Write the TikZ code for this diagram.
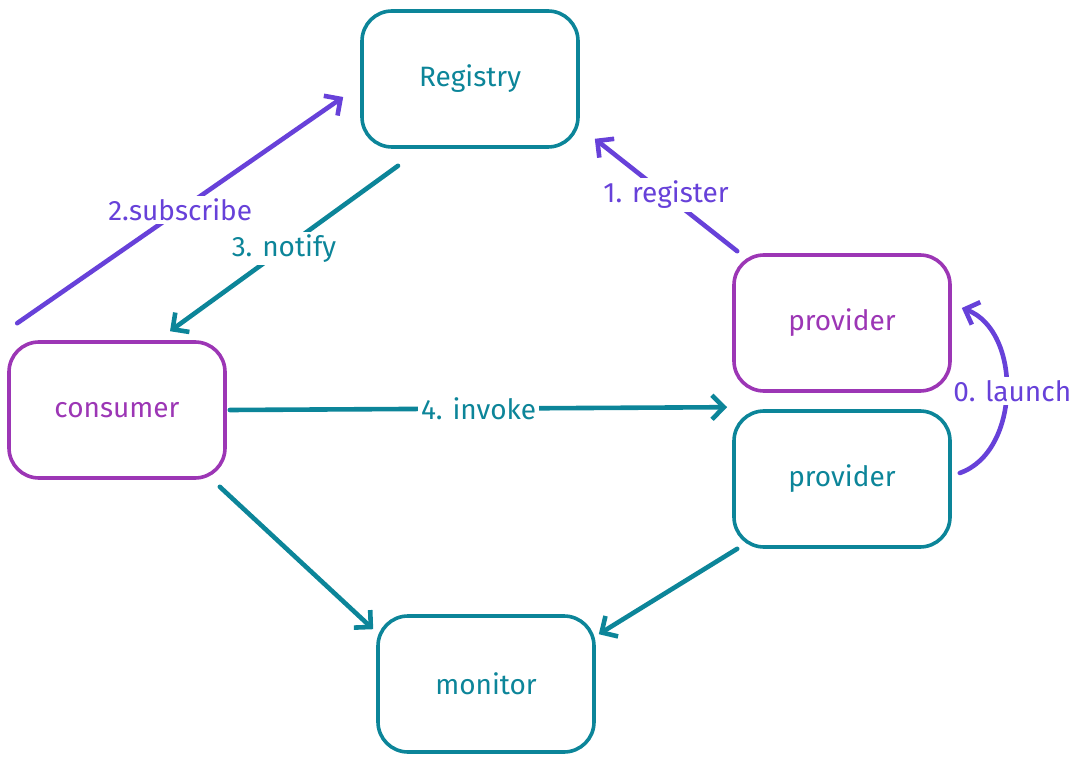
\documentclass[tikz,border=0pt]{standalone}
\usepackage{fontspec}
\setmainfont{Fira Sans}
\usetikzlibrary{arrows.meta}
\definecolor{dteal}{HTML}{0C8599}
\definecolor{dpurple}{HTML}{9C36B5}
\definecolor{dviolet}{HTML}{6741D9}
\begin{document}
\begin{tikzpicture}[
	x=0.5pt, y=-0.5pt,
	font=\fontsize{14}{16}\selectfont,
	box/.style={draw, rounded corners=15pt, line width=1.8pt, minimum width=108pt, minimum height=68pt},
	tb/.style={box, draw=dteal, text=dteal},
	pb/.style={box, draw=dpurple, text=dpurple},
	link/.style={line width=2.3pt, line cap=round, -{Straight Barb[length=6pt,width=12pt]}},
	tl/.style={link, draw=dteal},
	vl/.style={link, draw=dviolet},
	lbl/.style={fill=white, inner sep=1.5pt},
	]
\useasboundingbox (0,0) rectangle (1081,764);
\node [tb] (registry) at (470,79) {Registry};
\node [pb] (consumer) at (117,410) {consumer};
\node [pb] (provA) at (842,323) {provider};
\node [tb] (provB) at (842,479) {provider};
\node [tb] (monitor) at (486,684) {monitor};
\draw [vl] ([xshift=5pt,yshift=8.5pt]consumer.north west) -- node [lbl, text=dviolet] {2.subscribe} ([xshift=-8.5pt,yshift=-9pt]registry.west);
\draw [tl] ([xshift=-36pt,yshift=-8.5pt]registry.south) -- node [lbl, text=dteal] {3. notify} ([xshift=26.5pt,yshift=4.5pt]consumer.north);
\draw [vl] ([xshift=2.5pt,yshift=1pt]provA.north west) -- node [lbl, text=dviolet] {1. register} ([xshift=7.5pt,yshift=5pt]registry.south east);
\draw [tl] ([xshift=1.5pt]consumer.east) -- node [lbl, text=dteal] {4. invoke} ([xshift=-2.5pt,yshift=1pt]provB.north west);
\draw [vl] ([xshift=4pt,yshift=3pt]provB.east) to [bend right=70] node [lbl, text=dviolet, xshift=3pt] {0. launch} ([xshift=5pt,yshift=7.5pt]provA.east);
\draw [tl] ([xshift=-3.5pt,yshift=-3.5pt]consumer.south east) -- ([xshift=-1.5pt,yshift=-7.5pt]monitor.north west);
\draw [tl] ([xshift=2.5pt]provB.south west) -- ([xshift=1.5pt,yshift=-10pt]monitor.north east);
\end{tikzpicture}
\end{document}
